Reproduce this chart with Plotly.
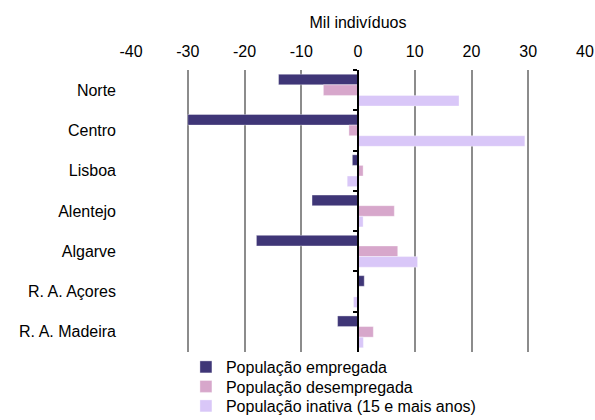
import plotly.graph_objects as go

# Regions (top to bottom)
regions = ["Norte", "Centro", "Lisboa", "Alentejo", "Algarve", "R. A. Açores", "R. A. Madeira"]

# Variation, thousand individuals
empregada = [-14.0, -30.0, -1.0, -8.1, -17.9, 1.1, -3.6]
desempregada = [-6.1, -1.6, 0.9, 6.4, 7.0, 0.0, 2.7]
inativa = [17.8, 29.4, -1.9, 0.9, 10.5, -0.8, 0.95]

series_names = [
    "População empregada",
    "População desempregada",
    "População inativa (15 e mais anos)",
]
series_values = [empregada, desempregada, inativa]
series_colors = ["#3F3677", "#D7A7CB", "#D9C7F8"]

x_ticks = [-40, -30, -20, -10, 0, 10, 20, 30, 40]

FONT = "Liberation Sans, Arial, Helvetica, sans-serif"

# one legend box per series so the rows can be stacked tightly
legend_ids = ["legend", "legend2", "legend3"]
legend_rows_px = [367, 386.5, 406]

fig = go.Figure()
for name, vals, col, lg in zip(series_names, series_values, series_colors, legend_ids):
    fig.add_trace(go.Bar(
        x=vals, y=regions, name=name, orientation="h", legend=lg,
        marker=dict(color=col, line=dict(color="rgba(255,255,255,0.6)", width=0.6)),
    ))

# Invisible helper trace for the category axis drawn at x = 0
fig.add_trace(go.Scatter(
    x=[0] * len(regions), y=regions, yaxis="y2", mode="markers",
    marker=dict(opacity=0), showlegend=False, hoverinfo="skip",
))

legend_style = dict(
    orientation="v", x=0.121, xanchor="left", yref="container", yanchor="middle",
    font=dict(family=FONT, size=16), itemwidth=30, bgcolor="rgba(0,0,0,0)",
)
legends = {
    lg: dict(legend_style, y=1 - row / 420)
    for lg, row in zip(legend_ids, legend_rows_px)
}

fig.update_layout(
    width=595, height=420,
    margin=dict(l=131, r=10, t=70, b=68, autoexpand=False),
    paper_bgcolor="white", plot_bgcolor="white",
    font=dict(family=FONT, size=16, color="#000000"),
    barmode="group", bargap=0.21, bargroupgap=0,
    xaxis=dict(
        side="top", range=[-40, 40], tickvals=x_ticks,
        ticktext=[str(v) for v in x_ticks],
        showgrid=True, gridcolor="#8C8C8C", gridwidth=1.5,
        zeroline=False, showline=False, ticks="", automargin=False,
        ticklabelstandoff=9,
        title=dict(text="Mil indivíduos", standoff=10, font=dict(size=16)),
        fixedrange=True,
    ),
    yaxis=dict(
        type="category", categoryorder="array", categoryarray=regions,
        autorange="reversed", showgrid=False, zeroline=False, automargin=False,
        showline=False, ticks="", ticklabelstandoff=14,
    ),
    yaxis2=dict(
        type="category", categoryorder="array", categoryarray=regions,
        overlaying="y", matches="y", anchor="free", position=0.5,
        side="left", showticklabels=False, showgrid=False, zeroline=False,
        showline=True, linecolor="#000000", linewidth=1.5, automargin=False,
        ticks="outside", tickson="boundaries", ticklen=4,
        tickcolor="#000000", tickwidth=1.5,
    ),
    showlegend=True,
    **legends,
)

fig.write_html("out.html")
